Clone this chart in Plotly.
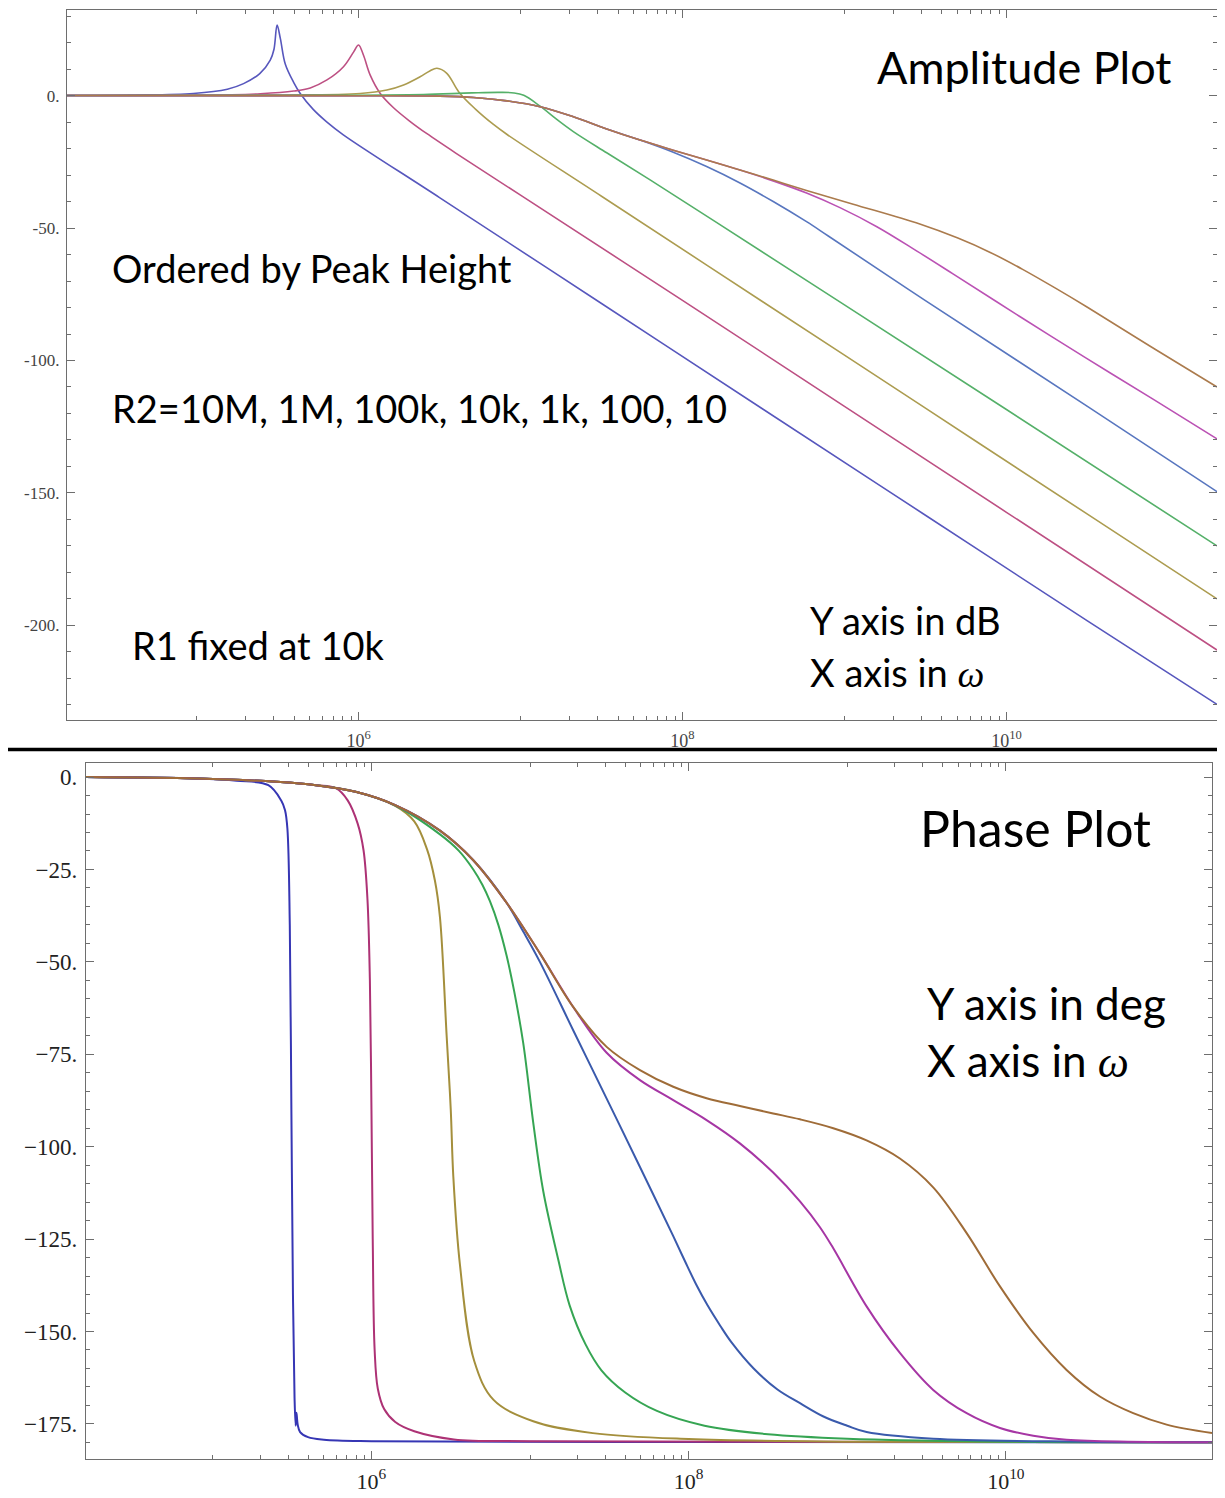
import numpy as np
import plotly.graph_objects as go

# ---------------- data (log10 of omega, and values) -------------
series_names = ["R2=10M", "R2=1M", "R2=100k", "R2=10k", "R2=1k", "R2=100", "R2=10"]
amp_colors = ["#5757bd", "#bd5083", "#ac9c50", "#55b069", "#5876bf", "#bb52b4", "#ab7b4d"]
ph_colors = ["#3636b4", "#ad3275", "#a48f3c", "#36a553", "#3a5aac", "#a636a4", "#9f6c38"]

# Amplitude (dB)
amp_logw_blue1 = [4.2, 4.6, 4.98, 5.19, 5.29, 5.39, 5.455, 5.478, 5.497, 5.517, 5.548, 5.6, 5.64, 5.72, 5.805, 5.906, 6.5, 7.5, 8.5, 9.5, 10.5, 11.3]
amp_db_blue1 = [0.0, 0.2, 0.8, 2.4, 4.5, 8.3, 13.4, 17.5, 26.6, 21.6, 11.8, 4.9, 0.8, -5.2, -10.0, -14.8, -38.5, -78.5, -118.5, -158.4, -198.3, -229.8]

amp_logw_mag1 = [4.2, 5.0, 5.394, 5.6, 5.702, 5.805, 5.907, 5.97, 6.0, 6.03, 6.072, 6.134, 6.216, 6.319, 6.42, 6.6, 7.0, 8.0, 9.0, 10.0, 11.3]
amp_db_mag1 = [0.0, 0.1, 0.7, 1.7, 2.9, 5.9, 10.9, 16.5, 19.1, 15.3, 7.7, 0.8, -4.6, -9.8, -14.3, -21.7, -37.6, -77.3, -117.3, -157.3, -209.3]

amp_logw_gold1 = [4.2, 5.5, 6.01, 6.175, 6.278, 6.38, 6.44, 6.484, 6.545, 6.62, 6.72, 6.833, 6.915, 7.5, 8.5, 9.5, 10.5, 11.3]
amp_db_gold1 = [0.0, 0.2, 0.8, 2.1, 4.0, 7.1, 9.3, 10.3, 8.4, 1.3, -5.0, -10.9, -14.6, -38.0, -78.0, -118.0, -158.0, -190.0]

amp_logw_green1 = [4.2, 6.0, 6.4, 6.7, 6.87, 6.96, 7.02, 7.121, 7.224, 7.326, 7.532, 7.8, 8.2, 9.0, 10.0, 11.3]
amp_db_green1 = [0.0, 0.1, 0.4, 1.0, 1.2, 1.0, 0.1, -4.0, -9.0, -13.6, -21.6, -31.8, -47.5, -79.0, -118.5, -170.0]

amp_logw_blue2 = [4.2, 6.0, 6.5, 6.71, 6.916, 7.121, 7.326, 7.532, 7.738, 7.943, 8.149, 8.355, 8.56, 8.766, 8.9, 9.5, 10.5, 11.3]
amp_db_blue2 = [0.0, -0.05, -0.2, -0.7, -2.0, -4.2, -8.0, -12.6, -16.8, -21.4, -26.8, -33.0, -40.0, -47.6, -53.0, -77.4, -117.3, -149.5]

amp_logw_mag2 = [4.2, 6.0, 6.5, 6.71, 6.916, 7.121, 7.326, 7.532, 7.738, 7.943, 8.149, 8.355, 8.56, 8.766, 8.972, 9.2, 9.45, 9.67, 10.08, 10.49, 10.905, 11.3]
amp_db_mag2 = [0.0, -0.05, -0.2, -0.7, -2.0, -4.2, -8.0, -12.6, -16.8, -20.6, -24.3, -28.1, -32.2, -36.8, -42.3, -49.5, -58.8, -67.3, -83.3, -99.0, -114.6, -129.6]

amp_logw_brown = [4.2, 6.0, 6.5, 6.71, 6.916, 7.121, 7.326, 7.532, 7.738, 7.943, 8.149, 8.355, 8.56, 8.766, 9.054, 9.465, 9.7, 9.9, 10.1, 10.3, 10.5, 10.9, 11.3]
amp_db_brown = [0.0, -0.05, -0.2, -0.7, -2.0, -4.2, -8.0, -12.6, -16.8, -20.6, -24.3, -28.1, -31.9, -35.8, -41.0, -48.5, -53.8, -59.2, -65.6, -72.6, -79.9, -95.1, -110.0]

# Phase (deg)
ph_logw_blue1 = [4.2, 4.9, 5.15, 5.35, 5.43, 5.455, 5.47, 5.485, 5.495, 5.505, 5.515, 5.522, 5.527, 5.535, 5.55, 5.6, 5.7, 6.0, 8.0, 11.3]
ph_deg_blue1 = [0.0, -0.4, -1.0, -2.2, -6.3, -9.0, -14.0, -40.0, -90.0, -140.0, -168.0, -175.5, -172.0, -175.2, -177.2, -178.6, -179.3, -179.7, -179.9, -180.0]

ph_logw_mag1 = [4.2, 4.9, 5.4, 5.65, 5.776, 5.85, 5.913, 5.95, 5.975, 5.99, 6.0, 6.008, 6.02, 6.04, 6.08, 6.15, 6.27, 6.52, 7.0, 11.3]
ph_deg_mag1 = [0.0, -0.4, -1.3, -2.2, -3.0, -6.3, -12.6, -19.8, -33.3, -55.0, -90.0, -125.0, -155.0, -165.5, -171.0, -174.5, -177.0, -179.2, -179.7, -180.0]

ph_logw_gold1 = [4.2, 4.9, 5.4, 5.65, 5.9, 6.15, 6.27, 6.35, 6.40, 6.432, 6.474, 6.5, 6.516, 6.558, 6.648, 6.77, 7.02, 7.396, 8.0, 9.0, 11.3]
ph_deg_gold1 = [0.0, -0.4, -1.3, -2.2, -4.0, -7.8, -12.0, -19.5, -28.0, -38.0, -70.0, -90.0, -108.0, -132.0, -158.0, -168.5, -174.3, -177.5, -179.1, -179.8, -180.0]

ph_logw_green1 = [4.2, 4.9, 5.4, 5.65, 5.9, 6.15, 6.432, 6.55, 6.642, 6.7, 6.747, 6.8, 6.852, 6.9, 6.957, 7.02, 7.083, 7.178, 7.25, 7.35, 7.45, 7.6, 7.8, 8.1, 8.5, 9.0, 10.0, 11.3]
ph_deg_green1 = [0.0, -0.4, -1.3, -2.2, -4.0, -7.7, -15.5, -19.9, -25.0, -29.2, -33.6, -40.0, -48.3, -58.0, -72.0, -93.5, -112.0, -130.6, -143.0, -153.5, -160.5, -166.5, -171.5, -175.5, -177.8, -179.0, -179.8, -180.0]

ph_logw_blue2 = [4.2, 4.9, 5.4, 5.65, 5.9, 6.15, 6.432, 6.642, 6.852, 6.957, 7.062, 7.272, 7.483, 7.693, 7.903, 7.977, 8.05, 8.12, 8.2, 8.268, 8.41, 8.56, 8.702, 8.85, 9.0, 9.122, 9.542, 10.5, 11.3]
ph_deg_blue2 = [0.0, -0.4, -1.3, -2.2, -4.0, -7.6, -14.5, -22.5, -34.0, -41.8, -50.0, -68.5, -87.0, -105.5, -124.2, -131.0, -137.5, -143.0, -148.5, -152.8, -160.0, -165.7, -169.4, -173.0, -175.5, -177.2, -179.0, -179.8, -180.0]

ph_logw_mag2 = [4.2, 4.9, 5.4, 5.65, 5.9, 6.15, 6.432, 6.642, 6.852, 7.062, 7.272, 7.483, 7.693, 7.903, 8.113, 8.323, 8.533, 8.702, 8.828, 8.912, 9.122, 9.332, 9.542, 9.753, 9.963, 10.173, 10.383, 11.3]
ph_deg_mag2 = [0.0, -0.4, -1.3, -2.2, -4.0, -7.6, -14.5, -22.5, -34.0, -47.7, -62.2, -74.6, -82.0, -87.4, -92.8, -99.1, -107.0, -114.8, -121.8, -127.5, -143.2, -155.8, -165.8, -172.1, -176.1, -178.2, -179.3, -180.0]

ph_logw_brown = [4.2, 4.9, 5.4, 5.65, 5.9, 6.15, 6.432, 6.642, 6.852, 7.062, 7.272, 7.483, 7.693, 7.903, 8.113, 8.323, 8.533, 8.702, 8.912, 9.122, 9.332, 9.542, 9.753, 9.963, 10.173, 10.383, 10.593, 10.803, 11.014, 11.3]
ph_deg_brown = [0.0, -0.4, -1.3, -2.2, -4.0, -7.6, -14.5, -22.5, -34.0, -47.7, -62.2, -73.0, -79.3, -83.8, -86.9, -89.0, -91.0, -92.6, -95.0, -98.3, -103.2, -111.0, -123.4, -137.8, -150.4, -160.4, -167.6, -172.1, -175.2, -177.5]

amp_sets = [(amp_logw_blue1, amp_db_blue1), (amp_logw_mag1, amp_db_mag1), (amp_logw_gold1, amp_db_gold1),
            (amp_logw_green1, amp_db_green1), (amp_logw_blue2, amp_db_blue2), (amp_logw_mag2, amp_db_mag2),
            (amp_logw_brown, amp_db_brown)]
ph_sets = [(ph_logw_blue1, ph_deg_blue1), (ph_logw_mag1, ph_deg_mag1), (ph_logw_gold1, ph_deg_gold1),
           (ph_logw_green1, ph_deg_green1), (ph_logw_blue2, ph_deg_blue2), (ph_logw_mag2, ph_deg_mag2),
           (ph_logw_brown, ph_deg_brown)]

x_major = [1e6, 1e8, 1e10]
x_major_text = ["10<sup>6</sup>", "10<sup>8</sup>", "10<sup>10</sup>"]
x_minor = [k * 10.0 ** e for e in (5, 7, 9) for k in range(1, 10)]
amp_major = [0, -50, -100, -150, -200]
amp_major_text = ["0.", "-50.", "-100.", "-150.", "-200."]
amp_minor = list(range(-230, 31, 10))
ph_major = [0, -25, -50, -75, -100, -125, -150, -175]
ph_major_text = ["0.", "\u221225.", "\u221250.", "\u221275.", "\u2212100.", "\u2212125.", "\u2212150.", "\u2212175."]
ph_minor = list(range(-180, 1, 5))

# ---------------- figure ----------------
# the page body has an 8px margin, so the figure is placed at (8, 8)
OFF = 8
W, H = 1225 - OFF, 1498 - OFF
def px(x):
    return (x - OFF) / W
def py(y):
    return 1 - (y - OFF) / H

fig = go.Figure()
for (lw, v), c, n in zip(amp_sets, amp_colors, series_names):
    fig.add_trace(go.Scatter(x=10 ** np.array(lw), y=v, mode="lines", name=n, showlegend=False,
                             line=dict(color=c, width=1.6, shape="spline", smoothing=1.0),
                             xaxis="x", yaxis="y", hoverinfo="skip"))
for (lw, v), c, n in zip(ph_sets, ph_colors, series_names):
    fig.add_trace(go.Scatter(x=10 ** np.array(lw), y=v, mode="lines", name=n, showlegend=False,
                             line=dict(color=c, width=2.0, shape="spline", smoothing=1.0),
                             xaxis="x2", yaxis="y2", hoverinfo="skip"))

frame = "#6e6e6e"
serif = "Liberation Serif"

def xaxis_cfg(domain, fsize, fcolor, anchor, standoff):
    return dict(domain=domain, type="log", range=[4.2, 11.3], anchor=anchor,
                tickmode="array", tickvals=x_major, ticktext=x_major_text,
                ticks="inside", ticklen=8, tickwidth=1, tickcolor=frame,
                minor=dict(tickmode="array", tickvals=x_minor, ticks="inside", ticklen=4,
                           tickwidth=1, tickcolor=frame, showgrid=False),
                showline=True, linecolor=frame, linewidth=1.2, mirror="allticks",
                showgrid=False, zeroline=False, ticklabelstandoff=standoff,
                tickfont=dict(family=serif, size=fsize, color=fcolor))

def yaxis_cfg(domain, rng, tv, tt, mv, fsize, fcolor, anchor, standoff):
    return dict(domain=domain, range=rng, anchor=anchor,
                tickmode="array", tickvals=tv, ticktext=tt,
                ticks="inside", ticklen=8, tickwidth=1, tickcolor=frame,
                minor=dict(tickmode="array", tickvals=mv, ticks="inside", ticklen=4,
                           tickwidth=1, tickcolor=frame, showgrid=False),
                showline=True, linecolor=frame, linewidth=1.2, mirror="allticks",
                showgrid=False, zeroline=False, ticklabelstandoff=standoff,
                tickfont=dict(family=serif, size=fsize, color=fcolor))

fig.update_layout(
    width=W, height=H, margin=dict(l=0, r=0, t=0, b=0),
    paper_bgcolor="white", plot_bgcolor="white",
    xaxis=xaxis_cfg([px(67), px(1217)], 18, "#444444", "y", 4),
    yaxis=yaxis_cfg([py(720), py(10)], [-235.7, 32.3], amp_major, amp_major_text, amp_minor, 17, "#444444", "x", 3),
    xaxis2=xaxis_cfg([px(86), px(1212)], 22, "#222222", "y2", 2),
    yaxis2=yaxis_cfg([py(1459), py(763)], [-184.5, 3.8], ph_major, ph_major_text, ph_minor, 23, "#222222", "x2", 3),
)

# separator line
fig.add_shape(type="line", xref="paper", yref="paper", x0=px(8), x1=px(1221), y0=py(749.5), y1=py(749.5),
              line=dict(color="black", width=3.5))

sans = "Lato"
omega = "<i><span style=\"font-family:'Liberation Serif'\">\u03c9</span></i>"
notes = [
    ("Amplitude Plot", 875, 67, 45),
    ("Ordered by Peak Height", 110, 268, 38),
    ("R2=10M, 1M, 100k, 10k, 1k, 100, 10", 110, 408, 38),
    ("R1 fixed at 10k", 130, 645, 38),
    ("Y axis in dB", 808, 620, 38),
    ("X axis in " + omega, 808, 672, 38),
    ("Phase Plot", 918, 828, 50),
    ("Y axis in deg", 925, 1003, 44),
    ("X axis in " + omega, 925, 1060, 44),
]
for txt, x, y, s in notes:
    fig.add_annotation(text=txt, x=px(x), y=py(y), xref="paper", yref="paper",
                       xanchor="left", yanchor="middle", showarrow=False,
                       font=dict(family=sans, size=s, color="black"))

fig.write_html("out.html")
